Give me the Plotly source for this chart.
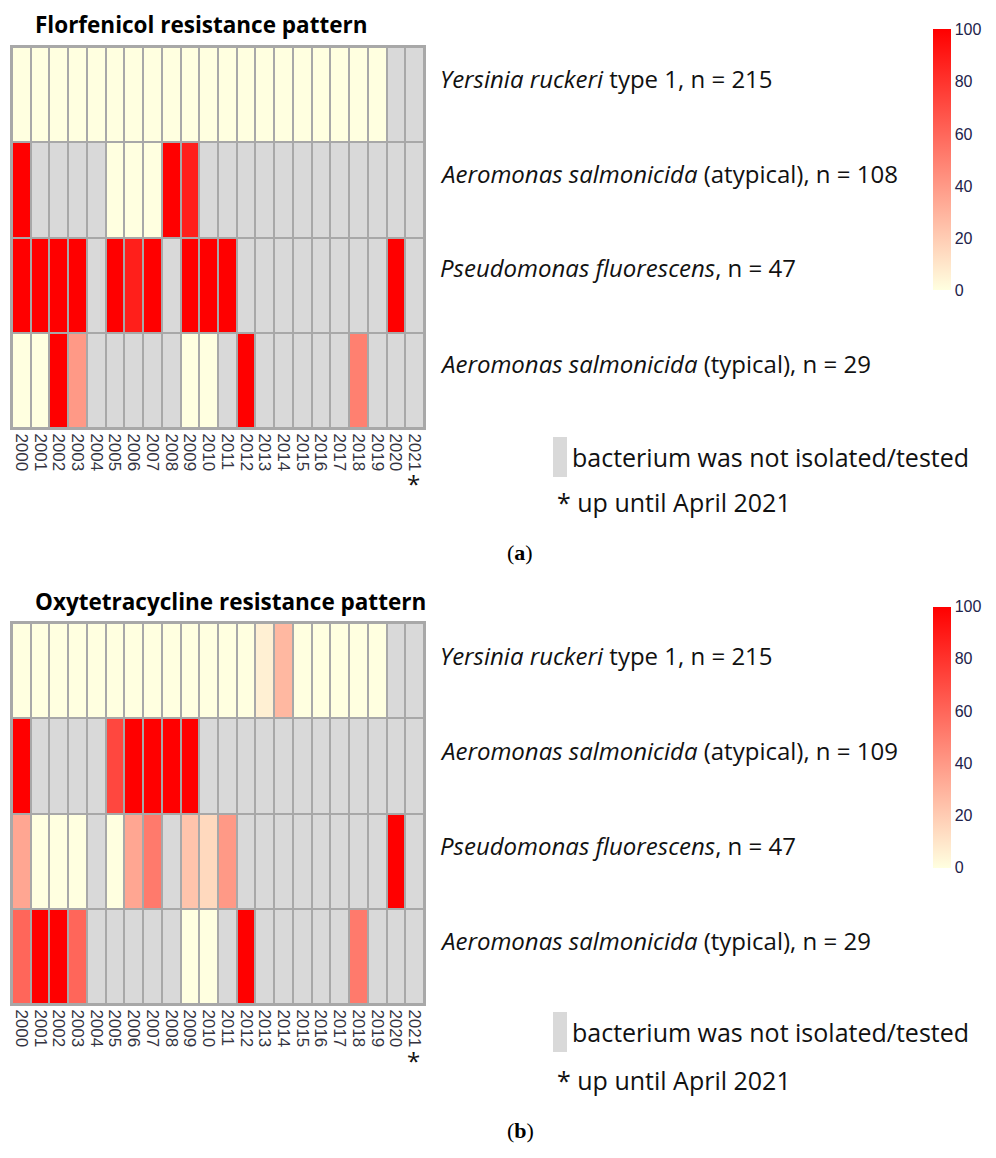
import plotly.graph_objects as go

years = [str(y) for y in range(2000, 2022)]
species = ["Yersinia ruckeri type 1", "Aeromonas salmonicida (atypical)",
           "Pseudomonas fluorescens", "Aeromonas salmonicida (typical)"]

N = None
# Florfenicol resistance (% resistant isolates); None = not isolated/tested
flor_yersinia = [0]*20 + [N, N]
flor_aero_atyp = [100, N, N, N, N, 0, 0, 0, 100, 88] + [N]*12
flor_pseudo = [100, 100, 100, 100, N, 100, 88, 100, N, 100, 100, 100] + [N]*8 + [100, N]
flor_aero_typ = [0, 0, 100, 40, N, N, N, N, N, 0, 0, N, 100, N, N, N, N, N, 50, N, N, N]

# Oxytetracycline resistance
oxy_yersinia = [0]*13 + [6, 28] + [0]*5 + [N, N]
oxy_aero_atyp = [100, N, N, N, N, 72, 100, 100, 100, 100] + [N]*12
oxy_pseudo = [35, 0, 0, 0, N, 0, 35, 52, N, 23, 15, 40] + [N]*8 + [100, N]
oxy_aero_typ = [60, 100, 100, 60, N, N, N, N, N, 0, 0, N, 100, N, N, N, N, N, 52, N, N, N]

flor_labels = ["<i>Yersinia ruckeri</i> type 1, n = 215",
               "<i>Aeromonas salmonicida</i> (atypical), n = 108",
               "<i>Pseudomonas fluorescens</i>, n = 47",
               "<i>Aeromonas salmonicida</i> (typical), n = 29"]
oxy_labels = ["<i>Yersinia ruckeri</i> type 1, n = 215",
              "<i>Aeromonas salmonicida</i> (atypical), n = 109",
              "<i>Pseudomonas fluorescens</i>, n = 47",
              "<i>Aeromonas salmonicida</i> (typical), n = 29"]

flor_z = [flor_yersinia, flor_aero_atyp, flor_pseudo, flor_aero_typ]
oxy_z = [oxy_yersinia, oxy_aero_atyp, oxy_pseudo, oxy_aero_typ]

OFF = 8  # page body margin
W, H = 996 - 2 * OFF, 1158 - 2 * OFF
def px(x): return (x - OFF) / W
def py(y): return 1 - (y - OFF) / H

GREY = "#D9D9D9"
BORDER = "#A8A8A8"
cscale = [[0, "#FFFFE0"], [1, "#FF0000"]]

fig = go.Figure()

def add_panel(z, xa, ya, cb_center):
    mask = [[1 if v is None else None for v in row] for row in z]
    fig.add_trace(go.Heatmap(z=mask, x=years, y=species, xaxis=xa, yaxis=ya,
                             colorscale=[[0, GREY], [1, GREY]], showscale=False,
                             xgap=2, ygap=2, hoverinfo="skip"))
    fig.add_trace(go.Heatmap(z=z, x=years, y=species, xaxis=xa, yaxis=ya,
                             colorscale=cscale, zmin=0, zmax=100, xgap=2, ygap=2,
                             colorbar=dict(x=px(933), xanchor="left", xpad=0, ypad=0,
                                           y=py(cb_center), yanchor="middle",
                                           len=261, lenmode="pixels",
                                           thickness=18, outlinewidth=0,
                                           tickvals=[0, 20, 40, 60, 80, 100],
                                           ticks="", ticklabelposition="outside",
                                           tickfont=dict(family="Liberation Sans", size=16,
                                                         color="#22224a"))))

add_panel(flor_z, "x", "y", 160)
add_panel(oxy_z, "x2", "y2", 737)

axis_x = dict(type="category", range=[-0.5, 21.5], showgrid=False, zeroline=False,
              tickmode="array", tickvals=years, ticktext=years,
              tickangle=90, ticks="", showline=True, mirror=True, linecolor=BORDER,
              linewidth=2, tickfont=dict(family="Liberation Sans", size=17, color="#333340"))
axis_y = dict(type="category", autorange="reversed", showgrid=False, zeroline=False,
              showticklabels=False, ticks="", showline=True, mirror=True,
              linecolor=BORDER, linewidth=2)

fig.update_layout(
    width=W, height=H, margin=dict(l=0, r=0, t=0, b=0),
    paper_bgcolor="white", plot_bgcolor=BORDER,
    xaxis=dict(axis_x, domain=[px(12), px(424)], anchor="y"),
    yaxis=dict(axis_y, domain=[py(428), py(47)], anchor="x"),
    xaxis2=dict(axis_x, domain=[px(12), px(424)], anchor="y2"),
    yaxis2=dict(axis_y, domain=[py(1004), py(623)], anchor="x2"),
    showlegend=False,
)

ann = []
TXT = dict(family="Open Sans", size=24, color="#111111")
LEG = dict(family="Open Sans", size=25, color="#111111")

def titles(text, y):
    ann.append(dict(x=px(33), y=py(y), xref="paper", yref="paper", text="<b>%s</b>" % text,
                    showarrow=False, xanchor="left", yanchor="middle",
                    font=dict(family="Open Sans", size=22.5, color="#000000")))

titles("Florfenicol resistance pattern", 24)
titles("Oxytetracycline resistance pattern", 601)

for labels, ys in [(flor_labels, [78, 174, 268, 363]), (oxy_labels, [655, 750, 845, 940])]:
    for lab, yy in zip(labels, ys):
        ann.append(dict(x=px(438), y=py(yy), xref="paper", yref="paper", text=lab,
                        showarrow=False, xanchor="left", yanchor="middle", font=TXT))

shapes = []
for (ytop, ytext, ynote, yast, ylet, letter) in [(437, 457, 502, 484, 553, "a"),
                                                   (1012, 1032, 1080, 1060, 1130, "b")]:
    shapes.append(dict(type="rect", xref="paper", yref="paper", x0=px(553), x1=px(567),
                       y0=py(ytop), y1=py(ytop + 40), fillcolor=GREY, line=dict(width=0)))
    ann.append(dict(x=px(570), y=py(ytext), xref="paper", yref="paper",
                    text="bacterium was not isolated/tested", showarrow=False,
                    xanchor="left", yanchor="middle", font=LEG))
    ann.append(dict(x=px(555), y=py(ynote), xref="paper", yref="paper",
                    text="* up until April 2021", showarrow=False,
                    xanchor="left", yanchor="middle", font=LEG))
    ann.append(dict(x=px(413), y=py(yast), xref="paper", yref="paper", text="*",
                    showarrow=False, xanchor="center", yanchor="middle",
                    font=dict(family="Open Sans", size=24, color="#111111")))
    ann.append(dict(x=px(520), y=py(ylet), xref="paper", yref="paper",
                    text="(<b>%s</b>)" % letter, showarrow=False,
                    xanchor="center", yanchor="middle",
                    font=dict(family="Liberation Serif", size=22, color="#000000")))

fig.update_layout(annotations=ann, shapes=shapes)
fig.write_html("out.html")
